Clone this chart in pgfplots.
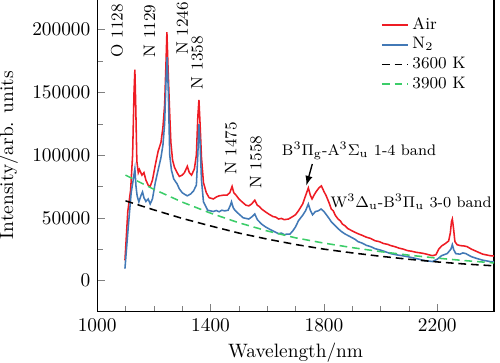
\documentclass[border=0pt]{standalone}
\usepackage{pgfplots}
\pgfplotsset{compat=1.18}
\definecolor{cred}{RGB}{238,28,36}
\definecolor{cblue}{RGB}{66,121,182}
\definecolor{cgreen}{RGB}{60,205,105}
\tikzset{ann/.style={font=\fontsize{8.6}{10}\selectfont},
  band/.style={font=\fontsize{7.9}{9.5}\selectfont, inner sep=0pt}}
\begin{document}
\begin{tikzpicture}
\begin{axis}[
  scale only axis,
  width=205pt, height=162pt,
  xmin=1000, xmax=2400,
  ymin=-25000, ymax=225000,
  xtick={1000,1400,1800,2200},
  minor x tick num=3,
  ytick={0,50000,100000,150000,200000},
  minor y tick num=1,
  tick pos=left,
  tick align=inside,
  axis line style={line width=0.6pt},
  scaled y ticks=false,
  /pgf/number format/1000 sep={},
  /pgf/number format/fixed,
  xlabel={Wavelength/nm},
  ylabel={Intensity/arb. units},
  xlabel style={at={(axis description cs:0.5,-0.13)},anchor=center},
  ylabel style={at={(axis description cs:-0.224,0.5)},anchor=center},
  legend style={at={(axis description cs:0.70,0.965)},anchor=north west,draw=none,fill=none,
    font=\fontsize{8.6}{10}\selectfont, row sep=-1.2pt},
  legend cell align=left,
  legend image code/.code={\draw[#1] (0cm,0cm) -- (0.47cm,0cm);},
]
\addplot[cred, line width=0.8pt] coordinates {
(1098,16000) (1108,55000) (1118,72000) (1125,100000) (1130,150000) (1133,168000)
(1136,140000) (1140,95000) (1145,86000) (1149,88500) (1152,87000) (1158,84000) (1165,86000)
(1172,80000) (1180,76000) (1187,75000) (1195,80000) (1205,92000) (1215,103000)
(1225,110000) (1232,122000) (1238,140000) (1243,175000) (1246,198000) (1250,170000)
(1255,138000) (1260,110000) (1266,96000) (1273,90000) (1282,86000) (1290,83000)
(1300,84000) (1308,86000) (1318,91000) (1325,86000) (1333,84000) (1343,89000)
(1350,100000) (1355,130000) (1359,144000) (1363,125000) (1368,98000) (1375,78000)
(1385,70000) (1395,66000) (1410,65000) (1420,66500) (1430,67500) (1445,68000) (1458,68000)
(1468,70000) (1476,75000) (1482,70000) (1490,68000) (1500,65000) (1511,62700)
(1525,60000) (1535,59500) (1545,61000) (1556,64000) (1565,60000) (1572,59000) (1580,57000)
(1592,55000) (1605,53000) (1620,51000) (1630,50500) (1640,49000) (1650,49500) (1660,48500)
(1675,49000) (1690,51000) (1700,52500) (1710,55500) (1725,61000) (1735,67500) (1745,73800)
(1752,68000) (1758,65000) (1765,68000) (1773,71000) (1783,74000) (1791,75400) (1800,71000)
(1808,67500) (1818,62000) (1826,57000) (1833,55500) (1840,52000) (1850,49000) (1858,47500)
(1865,45000) (1875,43500) (1885,41300) (1900,39500) (1920,37300) (1935,36000) (1950,34500)
(1965,33500) (1980,31700) (1995,31000) (2010,29500) (2025,28800) (2036,27800) (2050,27000)
(2065,25800) (2080,25000) (2095,23800) (2110,23300) (2125,22500) (2140,22000) (2155,21400)
(2170,20500) (2183,19800) (2195,20500) (2205,25000)
(2215,27500) (2228,29400) (2240,31500) (2246,38000) (2250,47000) (2253,49000)
(2257,42000) (2262,31000) (2270,28500) (2281,27800) (2295,27500) (2305,27000)
(2320,25000) (2340,23000) (2360,21000) (2386,19800) (2400,19500)
};
\addlegendentry{Air}
\addplot[cblue, line width=0.8pt] coordinates {
(1098,9500) (1110,43600) (1120,70000) (1127,80000) (1133,89000) (1137,75000)
(1141,67500) (1147,62700) (1155,68000) (1160,70600) (1165,66000) (1172,63000)
(1180,65000) (1187,61000) (1195,65000) (1205,78000) (1215,88000) (1225,98000)
(1232,108000) (1238,125000) (1243,160000) (1247,178000) (1251,150000) (1256,100000)
(1262,88000) (1270,81000) (1282,77000) (1290,73000) (1300,70000) (1310,68500) (1318,67500)
(1330,69000) (1340,71400) (1350,76000) (1355,100000) (1359,124600) (1363,110000)
(1368,80000) (1375,62700) (1390,56000) (1410,55000) (1420,55800) (1430,54800) (1440,56000) (1450,55500)
(1462,56000) (1470,60000) (1474,62700) (1480,58000) (1486,56000) (1500,53000)
(1515,50000) (1535,49000) (1547,51000) (1556,53000) (1565,48500) (1580,45000)
(1592,43000) (1605,41300) (1620,39500) (1640,37300) (1650,37800) (1660,36500) (1670,37000)
(1680,37000) (1690,39500) (1700,42800) (1710,47600)
(1725,52000) (1735,55500) (1745,61000) (1752,56000) (1760,52400) (1770,55000)
(1780,55500) (1790,57000) (1800,55000) (1810,52000) (1818,49500) (1826,46800) (1838,44000) (1850,41300)
(1862,39000) (1875,37000) (1888,35500) (1900,34000) (1910,32800) (1920,31000) (1935,29800) (1950,28000)
(1965,27000) (1980,25400) (2000,24200) (2018,22800) (2036,21400) (2055,20500) (2075,19800)
(2095,19000) (2115,18000) (2135,17000) (2155,15900) (2170,15500) (2183,15100) (2200,17000) (2215,19800) (2235,21500)
(2248,25000) (2253,28600) (2258,24500) (2265,21400) (2280,21000) (2290,22000) (2300,21500)
(2320,19000) (2340,17500) (2360,16200) (2386,15100) (2400,15000)
};
\addlegendentry{N$_2$}
\addplot[black, line width=0.8pt, dash pattern=on 4pt off 2.5pt] coordinates {
(1100,63500) (1200,56300) (1300,49500) (1400,43500) (1500,37800) (1600,33000)
(1700,28700) (1800,25000) (1900,22000) (2000,19300) (2100,16900) (2200,14800)
(2300,13100) (2400,11700)
};
\addlegendentry{3600 K}
\addplot[cgreen, line width=0.8pt, dash pattern=on 4pt off 2.5pt] coordinates {
(1100,84000) (1200,72700) (1300,62500) (1400,53700) (1500,46000) (1600,39500)
(1700,34000) (1800,29800) (1900,26200) (2000,23000) (2100,20200) (2200,17800)
(2300,15800) (2400,14000)
};
\addlegendentry{3900 K}
\node[ann,rotate=90,anchor=west,inner sep=1pt] at (axis cs:1070,176000) {O 1128};
\node[ann,rotate=90,anchor=west,inner sep=1pt] at (axis cs:1185,176000) {N 1129};
\node[ann,rotate=90,anchor=west,inner sep=1pt] at (axis cs:1301,178000) {N 1246};
\node[ann,rotate=90,anchor=west,inner sep=1pt] at (axis cs:1353,150800) {N 1358};
\node[ann,rotate=90,anchor=west,inner sep=1pt] at (axis cs:1472,82500) {N 1475};
\node[ann,rotate=90,anchor=west,inner sep=1pt] at (axis cs:1560,71400) {N 1558};
\node[band] at (axis cs:1924,103200) {B$^3\Pi_\mathrm{g}$-A$^3\Sigma_\mathrm{u}$ 1-4 band};
\node[band] at (axis cs:2108,62700) {W$^3\Delta_\mathrm{u}$-B$^3\Pi_\mathrm{u}$ 3-0 band};
\draw[-latex, line width=0.7pt] (axis cs:1759,92900) -- (axis cs:1738,75800);
\end{axis}
\pgfresetboundingbox
\path ([xshift=-50.2pt,yshift=-0.9pt]current axis.north west) rectangle ([xshift=3.1pt,yshift=-26.4pt]current axis.south east);
\end{tikzpicture}
\end{document}
